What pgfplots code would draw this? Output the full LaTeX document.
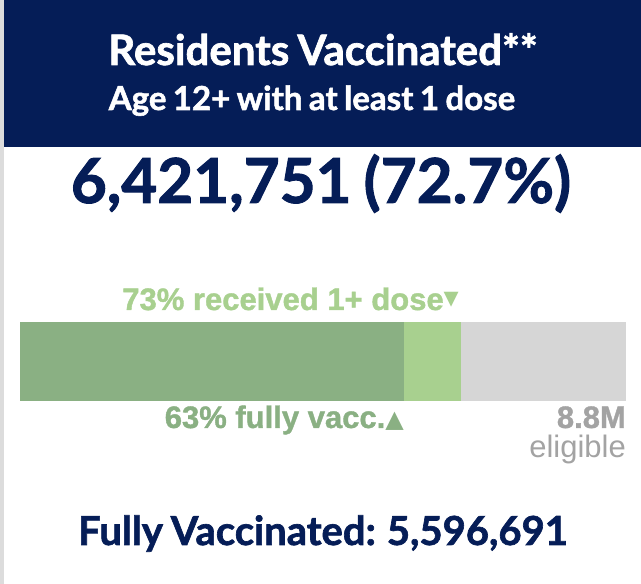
\documentclass[border=0pt]{standalone}
\usepackage{pgfplots}
\pgfplotsset{compat=1.18}
\usepackage{fontspec}
\setmainfont{Liberation Sans}[BoldFeatures={FakeBold=1.2}]
\newfontfamily\lato{Lato}[WordSpace=0.8,BoldFeatures={FakeBold=1.6}]
\newfontfamily\dv{DejaVu Sans}
\definecolor{navy}{HTML}{051D57}
\definecolor{dkgreen}{HTML}{8AB083}
\definecolor{ltgreen}{HTML}{A8D08F}
\definecolor{barGray}{HTML}{D6D6D6}
\definecolor{txtGray}{HTML}{A3A3A3}
\definecolor{strip}{HTML}{DCDCDC}
\begin{document}
\begin{tikzpicture}[x=1pt,y=1pt]
\useasboundingbox (0,0) rectangle (641,584);
\fill[white] (0,0) rectangle (641,584);
\fill[strip] (0,0) rectangle (3.5,584);
\fill[navy] (4,437) rectangle (641,584);
\node[anchor=base,inner sep=0,text=white,font=\lato\bfseries\fontsize{42}{42}\selectfont] at (323,519) {Residents Vaccinated**};
\node[anchor=base,inner sep=0,text=white,font=\lato\bfseries\fontsize{33}{33}\selectfont] at (312,474) {Age 12+ with at least 1 dose};
\node[anchor=base,inner sep=0,text=navy,font=\lato\bfseries\fontsize{62}{62}\selectfont] at (321,381) {6,421,751 (72.7\%)};
\node[anchor=base,inner sep=0,text=navy,font=\lato\bfseries\fontsize{40}{40}\selectfont] at (323,39) {Fully Vaccinated: 5,596,691};
\begin{axis}[at={(20pt,183pt)}, anchor=south west, scale only axis,
  width=606pt, height=79pt, xmin=0, xmax=100, ymin=0.5, ymax=1.5,
  xbar stacked, bar width=79pt, axis lines=none, ticks=none, clip=false]
\addplot[fill=dkgreen, draw=none] coordinates {(63.3,1)};
\addplot[fill=ltgreen, draw=none] coordinates {(9.4,1)};
\addplot[fill=barGray, draw=none] coordinates {(27.3,1)};
\end{axis}
\node[anchor=base east,inner sep=0,text=ltgreen,font=\bfseries\fontsize{31}{31}\selectfont] at (459,274) {73\% received 1+ dose\raisebox{2.5pt}{\dv\fontsize{30}{30}\selectfont ▾}};
\node[anchor=base east,inner sep=0,text=dkgreen,font=\bfseries\fontsize{31}{31}\selectfont] at (404,156) {63\% fully vacc.{\dv\fontsize{24}{24}\selectfont ▲}};
\node[anchor=base east,inner sep=0,text=txtGray,font=\bfseries\fontsize{31}{31}\selectfont] at (626,156) {8.8M};
\node[anchor=base east,inner sep=0,text=txtGray,font=\fontsize{31}{31}\selectfont] at (626,126) {eligible};
\end{tikzpicture}
\end{document}
